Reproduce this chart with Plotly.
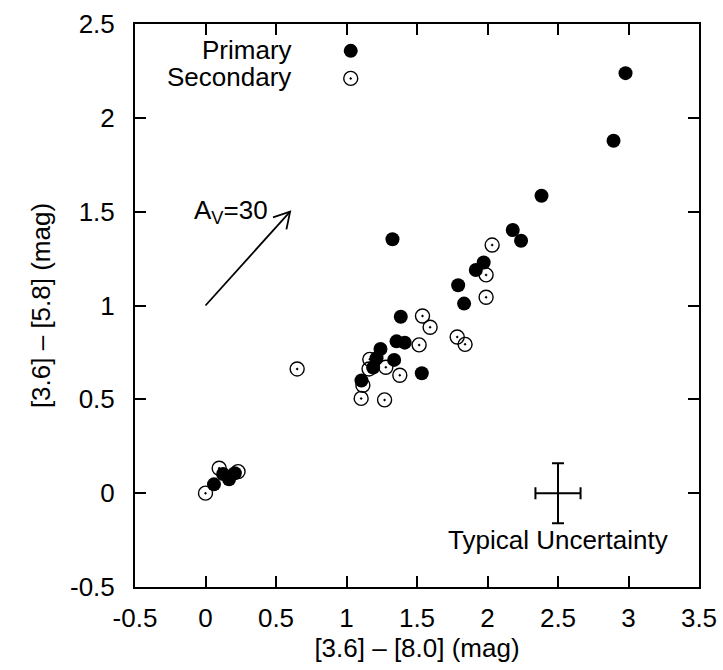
import plotly.graph_objects as go

# ---- data ----
primary_x = [0.06, 0.125, 0.167, 0.208, 1.106, 1.189, 1.213, 1.241, 1.338, 1.355, 1.413,
             1.385, 1.534, 1.326, 1.792, 1.834, 1.917, 1.973, 2.179, 2.238, 2.383, 2.894, 2.979]
primary_y = [0.047, 0.102, 0.074, 0.106, 0.600, 0.669, 0.719, 0.768, 0.710, 0.809, 0.802,
             0.940, 0.639, 1.353, 1.108, 1.010, 1.189, 1.229, 1.402, 1.345, 1.585, 1.878, 2.238]

secondary_x = [0.0, 0.097, 0.231, 0.650, 1.104, 1.116, 1.160, 1.165, 1.270, 1.279, 1.378,
               1.515, 1.539, 1.593, 1.785, 1.841, 1.990, 1.990, 2.033]
secondary_y = [0.0, 0.133, 0.115, 0.662, 0.505, 0.575, 0.662, 0.713, 0.497, 0.671, 0.628,
               0.790, 0.944, 0.884, 0.832, 0.793, 1.044, 1.163, 1.322]

uncert_x = [2.5]
uncert_y = [0.0]
uncert_err = [0.16]

reddening_start = (0.0, 1.0)
reddening_end = (0.6, 1.5)

x_ticks = [-0.5, 0, 0.5, 1, 1.5, 2, 2.5, 3, 3.5]
x_ticktext = ["-0.5", "0", "0.5", "1", "1.5", "2", "2.5", "3", "3.5"]
y_ticks = [-0.5, 0, 0.5, 1, 1.5, 2, 2.5]
y_ticktext = ["-0.5", "0", "0.5", "1", "1.5", "2", "2.5"]

FONT = "Liberation Sans, Arial, sans-serif"
FS = 26

fig = go.Figure()

# secondary (open circles with dot)
fig.add_trace(go.Scatter(
    x=secondary_x, y=secondary_y, mode="markers", showlegend=False,
    marker=dict(symbol="circle-open-dot", size=14, color="black", line=dict(width=1.4, color="black")),
))
# primary (filled circles)
fig.add_trace(go.Scatter(
    x=primary_x, y=primary_y, mode="markers", showlegend=False,
    marker=dict(symbol="circle", size=14, color="black", line=dict(width=0)),
))

# legend keys
fig.add_trace(go.Scatter(
    x=[1.03], y=[2.357], mode="markers", showlegend=False, hoverinfo="skip",
    marker=dict(symbol="circle", size=14, color="black", line=dict(width=0)),
))
fig.add_trace(go.Scatter(
    x=[1.03], y=[2.21], mode="markers", showlegend=False, hoverinfo="skip",
    marker=dict(symbol="circle-open-dot", size=14, color="black", line=dict(width=1.4, color="black")),
))

# typical uncertainty
fig.add_trace(go.Scatter(
    x=uncert_x, y=uncert_y, mode="markers", showlegend=False,
    marker=dict(size=1, color="rgba(0,0,0,0)"),
    error_x=dict(type="data", array=uncert_err, visible=True, color="black", thickness=2, width=6),
    error_y=dict(type="data", array=uncert_err, visible=True, color="black", thickness=2, width=6),
))

# reddening arrow
x0, y0 = reddening_start
x1, y1 = reddening_end
fig.add_shape(type="line", x0=x0, y0=y0, x1=x1, y1=y1, xref="x", yref="y",
              line=dict(color="black", width=1.8))
fig.add_shape(type="path", xref="x", yref="y",
              path=f"M {x1-0.121} {y1-0.030} L {x1} {y1} L {x1-0.026} {y1-0.094}",
              line=dict(color="black", width=1.8))

annots = [
    dict(text="Primary", x=0.63, y=2.36, xanchor="right", yanchor="middle"),
    dict(text="Secondary", x=0.62, y=2.215, xanchor="right", yanchor="middle"),
    dict(text="A<sub>V</sub>=30", x=-0.095, y=1.50, xanchor="left", yanchor="middle"),
    dict(text="Typical Uncertainty", x=2.5, y=-0.25, xanchor="center", yanchor="middle"),
]
for a in annots:
    fig.add_annotation(xref="x", yref="y", showarrow=False,
                       font=dict(family=FONT, size=FS, color="black"), **a)

axis_common = dict(
    showline=True, linecolor="black", linewidth=2, mirror="ticks",
    ticks="inside", ticklen=11, tickwidth=1.5, tickcolor="black",
    showgrid=False, zeroline=False,
    tickfont=dict(family=FONT, size=FS, color="black"),
)

fig.update_xaxes(range=[-0.5, 3.5], tickvals=x_ticks, ticktext=x_ticktext,
                 title=dict(text="[3.6] – [8.0] (mag)", font=dict(family=FONT, size=FS, color="black"), standoff=6),
                 ticklabelstandoff=7, **axis_common)
fig.update_yaxes(range=[-0.5, 2.5], tickvals=y_ticks, ticktext=y_ticktext,
                 title=dict(text="[3.6] – [5.8] (mag)", font=dict(family=FONT, size=FS, color="black"), standoff=12),
                 ticklabelstandoff=13, **axis_common)

fig.update_layout(
    width=723, height=670,
    margin=dict(l=135, r=24, t=24, b=83, autoexpand=False),
    paper_bgcolor="white", plot_bgcolor="white",
    font=dict(family=FONT, size=FS, color="black"),
)

fig.write_html("out.html")
